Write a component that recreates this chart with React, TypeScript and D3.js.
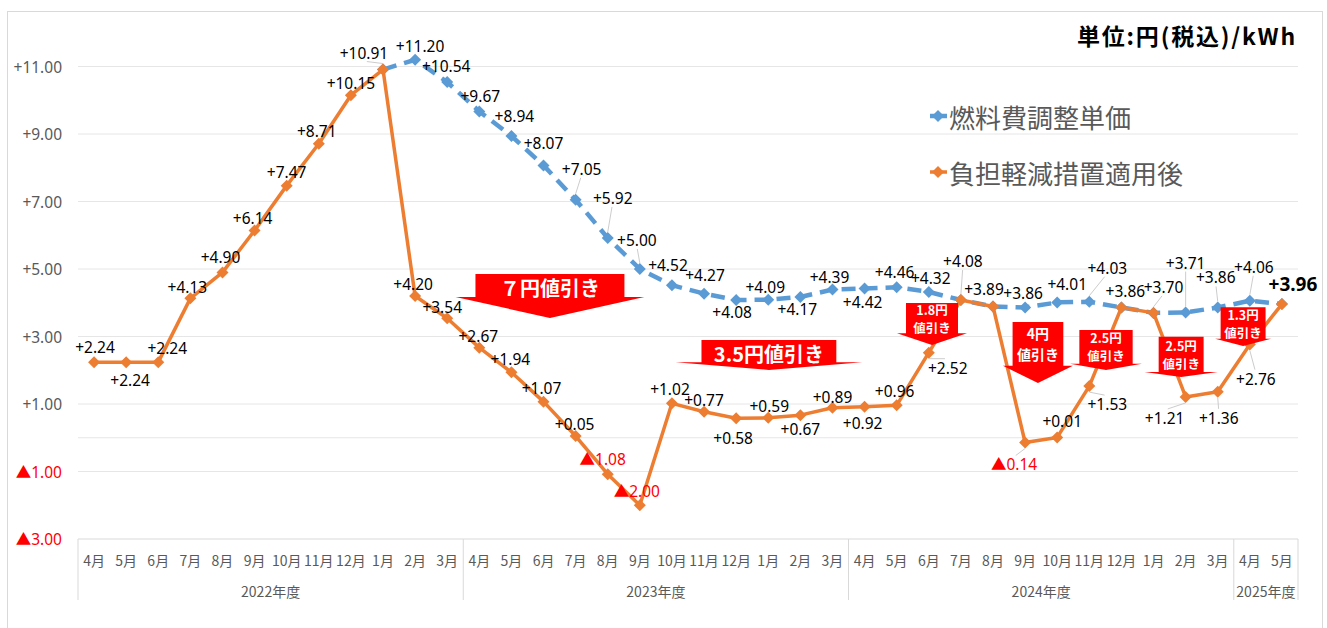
import * as d3 from "d3";

// カテゴリ(月)と年度
const months = [
  "4月", "5月", "6月", "7月", "8月", "9月", "10月", "11月", "12月", "1月", "2月", "3月",
  "4月", "5月", "6月", "7月", "8月", "9月", "10月", "11月", "12月", "1月", "2月", "3月",
  "4月", "5月", "6月", "7月", "8月", "9月", "10月", "11月", "12月", "1月", "2月", "3月",
  "4月", "5月",
];
const fiscalYears = ["2022年度", "2023年度", "2024年度", "2025年度"];
const monthsPerYear = [12, 12, 12, 2];

// 負担軽減措置適用後
const afterRelief = [
  2.24, 2.24, 2.24, 4.13, 4.90, 6.14, 7.47, 8.71, 10.15, 10.91, 4.20, 3.54,
  2.67, 1.94, 1.07, 0.05, -1.08, -2.00, 1.02, 0.77, 0.58, 0.59, 0.67, 0.89,
  0.92, 0.96, 2.52, 4.08, 3.89, -0.14, 0.01, 1.53, 3.86, 3.70, 1.21, 1.36,
  2.76, 3.96,
];

// 燃料費調整単価
const fuelAdjust: (number | null)[] = [
  null, null, null, null, null, null, null, null, null, 10.91, 11.20, 10.54,
  9.67, 8.94, 8.07, 7.05, 5.92, 5.00, 4.52, 4.27, 4.08, 4.09, 4.17, 4.39,
  4.42, 4.46, 4.32, 4.08, 3.89, 3.86, 4.01, 4.03, 3.86, 3.70, 3.71, 3.86,
  4.06, 3.96,
];

const yTicks = [-3, -1, 1, 3, 5, 7, 9, 11];

// ラベルの置き場所 (マーカーからのずれ)
const orangeLabelOffset: [number, number][] = [
  [1, -15], [4, 18], [9, -14], [-3, -11], [-2, -15], [-2, -13], [0, -14], [-2, -13], [0, -12], [-19, -17], [-2, -12], [-5, -11],
  [-1, -12], [-1, -13], [-2, -14], [-1, -12], [-5, -15], [-3, -14], [-2, -14], [0, -12], [-3, 20], [1, -12], [0, 14], [0, -11],
  [-2, 16], [-2, -14], [19, 15], [2, -39], [-9, -17], [-11, 22], [5, -16], [18, 18], [4, -16], [10, -26], [-21, 21], [1, 26],
  [6, 34], [11, -20],
];
const blueLabelOffset: ([number, number] | null)[] = [
  null, null, null, null, null, null, null, null, null, null, [5, -14], [-1, -16],
  [1, -15], [3, -20], [0, -22], [6, -31], [5, -40], [-3, -29], [-4, -20], [1, -19], [-4, 12], [-3, -13], [-3, 12], [-3, -13],
  [-2, 13], [-2, -15], [2, -14], null, null, [-2, -14], [10, -18], [18, -34], null, null, [0, -50], [-2, -30],
  [4, -34], null,
];

// 値引き矢印
const discounts = [
  { lines: ["７円値引き"], pos: 14.7, body: 2.32, head: 2.94, top: 4.85, neck: 4.17, tip: 3.55, size: 20, gap: 0 },
  { lines: ["3.5円値引き"], pos: 21.52, body: 2.1, head: 2.91, top: 2.9, neck: 2.24, tip: 2.01, size: 20, gap: 0 },
  { lines: ["1.8円", "値引き"], pos: 26.6, body: 0.81, head: 1.09, top: 3.99, neck: 3.1, tip: 2.75, size: 12.5, gap: 9 },
  { lines: ["4円", "値引き"], pos: 29.9, body: 0.79, head: 1.09, top: 3.43, neck: 2.13, tip: 1.62, size: 14, gap: 10.5 },
  { lines: ["2.5円", "値引き"], pos: 32.02, body: 0.83, head: 1.12, top: 3.19, neck: 2.19, tip: 2.01, size: 12.5, gap: 9 },
  { lines: ["2.5円", "値引き"], pos: 34.36, body: 0.7, head: 1.14, top: 2.99, neck: 1.95, tip: 1.8, size: 12.5, gap: 9 },
  { lines: ["1.3円", "値引き"], pos: 36.29, body: 0.7, head: 0.87, top: 3.87, neck: 2.93, tip: 2.72, size: 12.5, gap: 9 },
];

const BLUE = "#5B9BD5";
const ORANGE = "#ED7D31";
const RED = "#FF0000";
const GRID = "#e6e6e6";
const numFont = "'Noto Sans', 'Noto Sans CJK JP', sans-serif";
const jpFont = "'Noto Sans CJK JP', sans-serif";

const fmt = (v: number) => (v < 0 ? "▲" + Math.abs(v).toFixed(2) : "+" + v.toFixed(2));
const diamond = "M0,-6L6,0L0,6L-6,0Z";

export default function App() {
  const width = 1327;
  const height = 628;
  const left = 78;
  const right = 1298;
  const bottom = 539;

  const x = d3.scaleBand<number>().domain(d3.range(months.length)).range([left, right]);
  const cx = (i: number) => (x(i) ?? 0) + x.bandwidth() / 2;
  const xPos = d3.scaleLinear().domain([0, months.length]).range([left, right]);
  const y = d3.scaleLinear().domain([-3, 11]).range([bottom, 66.5]);

  const line = d3
    .line<number | null>()
    .defined((d) => d != null)
    .x((_, i) => cx(i))
    .y((d) => y(d as number));

  const bounds = [0, ...d3.cumsum(monthsPerYear)];

  const labels: { x: number; y: number; mx: number; my: number; v: number; bold?: boolean }[] = [];
  fuelAdjust.forEach((v, i) => {
    const o = blueLabelOffset[i];
    if (v == null || !o) return;
    labels.push({ x: cx(i) + o[0], y: y(v) + o[1], mx: cx(i), my: y(v), v });
  });
  afterRelief.forEach((v, i) => {
    const o = orangeLabelOffset[i];
    labels.push({ x: cx(i) + o[0], y: y(v) + o[1], mx: cx(i), my: y(v), v, bold: i === afterRelief.length - 1 });
  });

  return (
    <div style={{ position: "absolute", left: 0, top: 0 }}>
      <svg width={width} height={height} style={{ display: "block", background: "#fff" }}>
        <rect x={7.5} y={11.5} width={1315} height={640} fill="none" stroke="#d9d9d9" />

        {/* グリッド */}
        {[...yTicks, 0].map((t) => (
          <line key={"g" + t} x1={left} x2={right} y1={y(t)} y2={y(t)} stroke={t === -3 ? "#d9d9d9" : GRID} strokeWidth={1} />
        ))}
        {yTicks.map((t) => (
          <text
            key={"yl" + t}
            x={62}
            y={y(t)}
            textAnchor="end"
            dominantBaseline="central"
            fontFamily={numFont}
            fontSize={15.5}
            fill={t < 0 ? RED : "#595959"}
          >
            {fmt(t)}
          </text>
        ))}

        {/* 横軸 */}
        {bounds.map((b) => (
          <line key={"b" + b} x1={xPos(b)} x2={xPos(b)} y1={bottom} y2={600} stroke="#d9d9d9" />
        ))}
        {months.map((m, i) => (
          <text key={"m" + i} x={cx(i)} y={560} textAnchor="middle" dominantBaseline="central" fontFamily={jpFont} fontSize={14} fill="#595959">
            {m}
          </text>
        ))}
        {fiscalYears.map((fy, k) => (
          <text
            key={fy}
            x={(xPos(bounds[k]) + xPos(bounds[k + 1])) / 2}
            y={591}
            textAnchor="middle"
            dominantBaseline="central"
            fontFamily={jpFont}
            fontSize={14}
            fill="#595959"
          >
            {fy}
          </text>
        ))}

        {/* 燃料費調整単価 */}
        <path d={line(fuelAdjust) ?? ""} fill="none" stroke={BLUE} strokeWidth={4.5} strokeDasharray="14,8" />
        {fuelAdjust.map((v, i) =>
          v == null ? null : <path key={"bm" + i} d={diamond} transform={`translate(${cx(i)},${y(v)})`} fill={BLUE} />
        )}

        {/* 負担軽減措置適用後 */}
        <path d={line(afterRelief) ?? ""} fill="none" stroke={ORANGE} strokeWidth={3.5} strokeLinejoin="round" />
        {afterRelief.map((v, i) => (
          <path key={"om" + i} d={diamond} transform={`translate(${cx(i)},${y(v)})`} fill={ORANGE} />
        ))}

        {/* 引き出し線 */}
        {labels.map((l, i) => {
          const dy = l.y - l.my;
          const dx = l.x - l.mx;
          if (Math.hypot(dx, dy) < 24) return null;
          const ey = l.y - Math.sign(dy) * 9;
          return <line key={"ld" + i} x1={l.mx} y1={l.my + Math.sign(dy) * 6} x2={l.x - dx * 0.15} y2={ey} stroke="#bfbfbf" strokeWidth={0.8} />;
        })}

        {/* データラベル */}
        {labels.map((l, i) => (
          <text
            key={"lb" + i}
            x={l.x}
            y={l.y}
            textAnchor="middle"
            dominantBaseline="central"
            fontFamily={numFont}
            fontSize={l.bold ? 19 : 15.5}
            fontWeight={l.bold ? 700 : 400}
            fill={l.v < 0 ? RED : "#000"}
          >
            {fmt(l.v)}
          </text>
        ))}

        {/* 値引き矢印 */}
        {discounts.map((d, k) => {
          const xc = xPos(d.pos);
          const bw = xPos(d.body) - xPos(0);
          const hw = xPos(d.head) - xPos(0);
          const top = y(d.top);
          const neck = y(d.neck);
          const tip = y(d.tip);
          const path = `M${xc - bw},${top}L${xc + bw},${top}L${xc + bw},${neck}L${xc + hw},${neck}L${xc},${tip}L${xc - hw},${neck}L${xc - bw},${neck}Z`;
          const mid = (top + neck) / 2;
          return (
            <g key={"ar" + k}>
              <path d={path} fill={RED} />
              {d.lines.map((t, j) => (
                <text
                  key={j}
                  x={xc}
                  y={d.lines.length === 1 ? mid + 2 : mid + (j === 0 ? -d.gap : d.gap)}
                  textAnchor="middle"
                  dominantBaseline="central"
                  fontFamily={jpFont}
                  fontWeight={700}
                  fontSize={d.size}
                  fill="#fff"
                >
                  {t}
                </text>
              ))}
            </g>
          );
        })}

        {/* 凡例 */}
        <line x1={930} x2={947} y1={116} y2={116} stroke={BLUE} strokeWidth={4.5} />
        <path d={diamond} transform="translate(938,116)" fill={BLUE} />
        <text x={949} y={116} dominantBaseline="central" fontFamily={jpFont} fontSize={26} fill="#595959">
          燃料費調整単価
        </text>
        <line x1={930} x2={947} y1={172} y2={172} stroke={ORANGE} strokeWidth={3.5} />
        <path d={diamond} transform="translate(938,172)" fill={ORANGE} />
        <text x={949} y={172} dominantBaseline="central" fontFamily={jpFont} fontSize={26} fill="#595959">
          負担軽減措置適用後
        </text>

        <text
          x={1297}
          y={35}
          textAnchor="end"
          dominantBaseline="central"
          fontFamily={jpFont}
          fontWeight={700}
          fontSize={23}
          letterSpacing={1.8}
          fill="#000"
        >
          単位:円(税込)/kWh
        </text>
      </svg>
    </div>
  );
}
